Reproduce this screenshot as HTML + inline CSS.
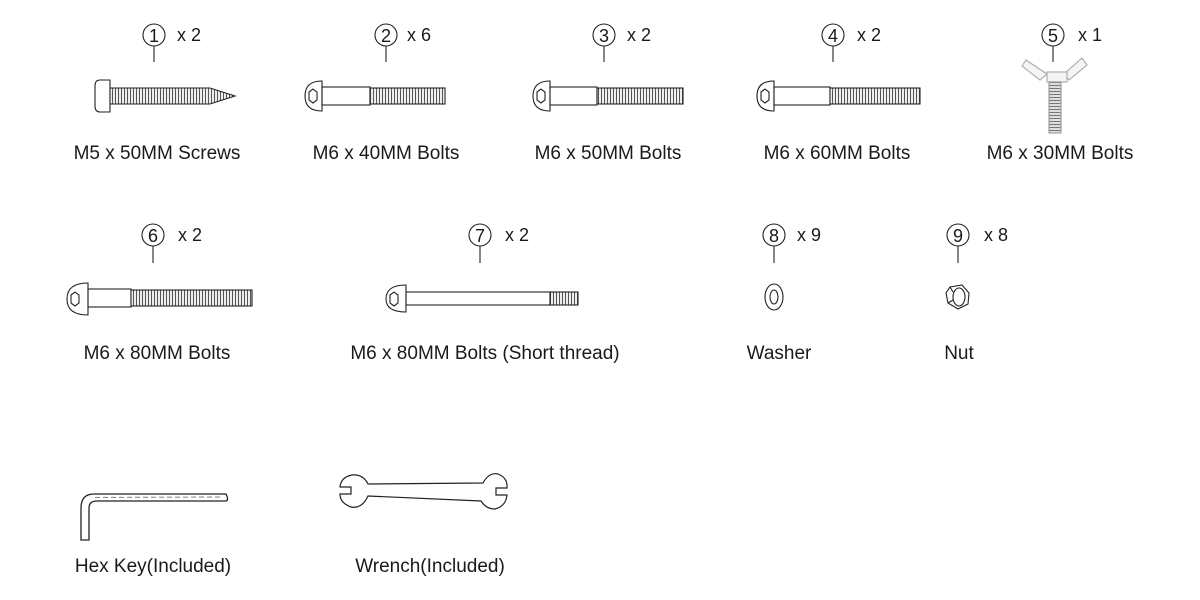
<!DOCTYPE html>
<html><head><meta charset="utf-8"><style>
html,body{margin:0;padding:0;background:#fff;}
svg{display:block;}
text{font-family:"Liberation Sans",Arial,sans-serif;fill:#1a1a1a;}
.l{font-size:19px;text-anchor:middle;}
.n{font-size:18px;}
.q{font-size:18px;}
.s{fill:none;stroke:#222;stroke-width:1.1;}
</style></head><body>
<svg width="1200" height="600" viewBox="0 0 1200 600" xmlns="http://www.w3.org/2000/svg">
<defs>
<pattern id="th" width="3" height="20" patternUnits="userSpaceOnUse">
<rect width="3" height="20" fill="#fff"/>
<line x1="1.5" y1="0" x2="1.5" y2="20" stroke="#555" stroke-width="1.2"/>
</pattern>
<pattern id="thv" width="20" height="3" patternUnits="userSpaceOnUse">
<rect width="20" height="3" fill="#ddd"/>
<line x1="0" y1="1.5" x2="20" y2="1.5" stroke="#777" stroke-width="1"/>
</pattern>
</defs>

<g class="s">
<circle cx="154" cy="35" r="11"/><line x1="154" y1="46" x2="154" y2="62"/>
<circle cx="386" cy="35" r="11"/><line x1="386" y1="46" x2="386" y2="62"/>
<circle cx="604" cy="35" r="11"/><line x1="604" y1="46" x2="604" y2="62"/>
<circle cx="833" cy="35" r="11"/><line x1="833" y1="46" x2="833" y2="62"/>
<circle cx="1053" cy="35" r="11"/><line x1="1053" y1="46" x2="1053" y2="62"/>
<circle cx="153" cy="235" r="11"/><line x1="153" y1="246" x2="153" y2="263"/>
<circle cx="480" cy="235" r="11"/><line x1="480" y1="246" x2="480" y2="263"/>
<circle cx="774" cy="235" r="11"/><line x1="774" y1="246" x2="774" y2="263"/>
<circle cx="958" cy="235" r="11"/><line x1="958" y1="246" x2="958" y2="263"/>
</g>
<g class="n" text-anchor="middle">
<text x="154" y="42">1</text><text x="386" y="42">2</text><text x="604" y="42">3</text><text x="833" y="42">4</text><text x="1053" y="42">5</text>
<text x="153" y="242">6</text><text x="480" y="242">7</text><text x="774" y="242">8</text><text x="958" y="242">9</text>
</g>
<g class="q">
<text x="177" y="41">x 2</text><text x="407" y="41">x 6</text><text x="627" y="41">x 2</text><text x="857" y="41">x 2</text><text x="1078" y="41">x 1</text>
<text x="178" y="241">x 2</text><text x="505" y="241">x 2</text><text x="797" y="241">x 9</text><text x="984" y="241">x 8</text>
</g>

<g class="l">
<text x="157" y="159">M5 x 50MM Screws</text>
<text x="386" y="159">M6 x 40MM Bolts</text>
<text x="608" y="159">M6 x 50MM Bolts</text>
<text x="837" y="159">M6 x 60MM Bolts</text>
<text x="1060" y="159">M6 x 30MM Bolts</text>
<text x="157" y="359">M6 x 80MM Bolts</text>
<text x="485" y="359">M6 x 80MM Bolts (Short thread)</text>
<text x="779" y="359">Washer</text>
<text x="959" y="359">Nut</text>
<text x="153" y="572">Hex Key(Included)</text>
<text x="430" y="572">Wrench(Included)</text>
</g>

<g class="s">
<path d="M100 80 Q95 80 95 86 L95 106 Q95 112 100 112 L110 112 L110 80 Z"/>
<path d="M110 88 L210 88 L235 96 L210 104 L110 104 Z" fill="url(#th)"/>
</g>
<g class="s">
<path d="M322 81 Q305 81 305 96 Q305 111 322 111 Z"/><polygon points="309,92 313,89 317,92 317,100 313,103 309,100"/>
<rect x="322" y="87" width="48" height="18"/><rect x="370" y="88" width="75" height="16" fill="url(#th)"/>
<path d="M550 81 Q533 81 533 96 Q533 111 550 111 Z"/><polygon points="537,92 541,89 545,92 545,100 541,103 537,100"/>
<rect x="550" y="87" width="47" height="18"/><rect x="597" y="88" width="86" height="16" fill="url(#th)"/>
<path d="M774 81 Q757 81 757 96 Q757 111 774 111 Z"/><polygon points="761,92 765,89 769,92 769,100 765,103 761,100"/>
<rect x="774" y="87" width="56" height="18"/><rect x="830" y="88" width="90" height="16" fill="url(#th)"/>
<path d="M1047 74 L1026 60 L1022 66 L1040 80 Z" fill="#f4f4f4" stroke="#aaa"/>
<path d="M1064 74 L1082 58 L1087 65 L1069 80 Z" fill="#f4f4f4" stroke="#aaa"/>
<rect x="1047" y="72" width="20" height="10" fill="#f4f4f4" stroke="#aaa"/>
<rect x="1049" y="82" width="12" height="51" fill="url(#thv)" stroke="#999"/>
<path d="M88 283 Q67 283 67 299 Q67 315 88 315 Z"/><polygon points="71,295 75,292 79,295 79,303 75,306 71,303"/>
<rect x="88" y="289" width="43" height="18"/><rect x="131" y="290" width="121" height="16" fill="url(#th)"/>
<path d="M406 285 Q386 285 386 299 Q386 312 406 312 Z"/><polygon points="390,295 394,292 398,295 398,303 394,306 390,303"/>
<rect x="406" y="292" width="144" height="13"/><rect x="550" y="292" width="28" height="13" fill="url(#th)"/>
<ellipse cx="774" cy="297" rx="9" ry="13"/><ellipse cx="774" cy="297" rx="4" ry="7"/>
<polygon points="950,287 962,285 969,293 968,304 958,309 948,303 946,293"/>
<ellipse cx="959" cy="297" rx="6" ry="9"/>
<line x1="950" y1="287" x2="953" y2="292"/><line x1="948" y1="303" x2="953" y2="300"/>
<path d="M89 540 L89 508 Q89 501 97 501 L226 501 Q229 500 226 494 L94 494 Q81 494 81 508 L81 540 Z" stroke-width="1.3"/>
<line x1="95" y1="497.5" x2="222" y2="497" stroke="#888" stroke-dasharray="5 3"/>
<path d="M368 484 L483 483 Q489 472 498 474 Q508 478 507 488 L496 488 L496 495 L507 495 Q506 506 495 509 Q486 509 481 501 L368 496 Q362 509 351 507 Q340 503 340 494 L351 494 L351 487 L340 487 Q341 477 352 475 Q363 474 368 484 Z" stroke-width="1.2"/>
</g>
</svg>
</body></html>
